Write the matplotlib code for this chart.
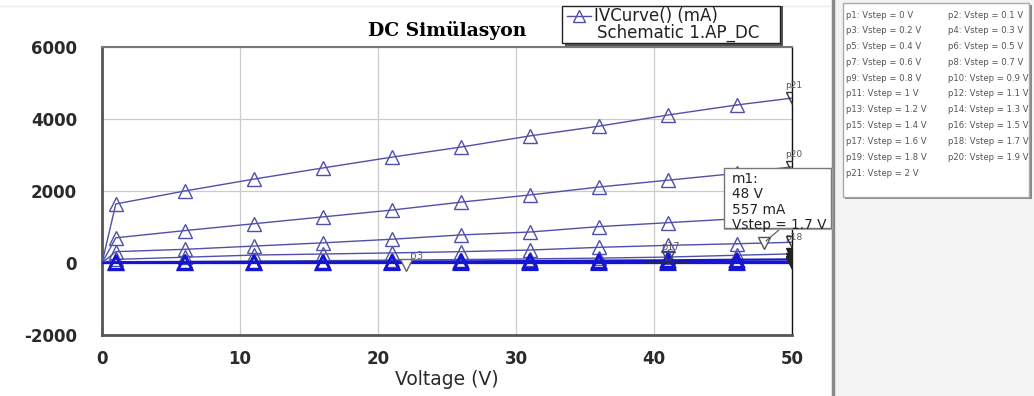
import matplotlib
matplotlib.use("Agg")
import matplotlib.pyplot as plt
from matplotlib.patches import Rectangle
from matplotlib.lines import Line2D

plt.rcParams["axes.unicode_minus"] = False

W, H = 1034, 396

# sweep points where the markers sit (V)
voltage = [0, 1, 6, 11, 16, 21, 26, 31, 36, 41, 46, 50]

# collector current for each Vstep trace (mA)
i_p21 = [0, 1640, 2000, 2330, 2640, 2940, 3220, 3530, 3800, 4110, 4390, 4580]
i_p20 = [0, 700, 900, 1090, 1280, 1470, 1690, 1890, 2110, 2300, 2490, 2670]
i_p19 = [0, 315, 380, 470, 560, 660, 780, 860, 1010, 1120, 1230, 1330]
i_p18 = [0, 100, 160, 220, 250, 280, 315, 360, 435, 490, 535, 575]
i_p17 = [0, 35, 45, 55, 65, 80, 95, 115, 135, 165, 215, 255]
i_p16 = [0, 15, 20, 25, 30, 35, 45, 55, 65, 75, 90, 100]
i_p15 = [0, 5, 8, 10, 12, 15, 18, 20, 24, 28, 32, 36]
i_low = [0, 0, 0, 0, 0, 0, 0, 0, 0, 0, 0, 0]

upper = [i_p21, i_p20, i_p19, i_p18, i_p17]
lower = [i_p16, i_p15, i_low]

# marker m1 on the Vstep = 1.7 V trace
m1_v, m1_i = 48, 557

x_ticks = [0, 10, 20, 30, 40, 50]
y_ticks = [-2000, 0, 2000, 4000, 6000]

vstep_labels = ["p%d: Vstep = %s V" % (n, v) for n, v in zip(
    range(1, 22),
    ["0", "0.1", "0.2", "0.3", "0.4", "0.5", "0.6", "0.7", "0.8", "0.9", "1",
     "1.1", "1.2", "1.3", "1.4", "1.5", "1.6", "1.7", "1.8", "1.9", "2"])]

trace_col = "#5050aa"
low_col = "#1414d2"


def fx(px):
    return px / W


def fy(py):
    return 1 - py / H


fig = plt.figure(figsize=(W / 100, H / 100), dpi=100)
fig.patch.set_facecolor("white")

# right-hand panel
fig.patches.append(Rectangle((fx(835), 0), fx(W - 835), 1, transform=fig.transFigure,
                             facecolor="#f3f3f3", edgecolor="none", zorder=0))
fig.lines.append(Line2D([fx(833), fx(833)], [0, 1], transform=fig.transFigure,
                        color="#8a8a8a", lw=2.5))
fig.lines.append(Line2D([0, fx(830)], [fy(6), fy(6)], transform=fig.transFigure,
                        color="#ececec", lw=1))

ax = fig.add_axes([fx(102), fy(335), fx(690), 288 / H])
ax.set_xlim(0, 50)
ax.set_ylim(-2000, 6000)
ax.set_xticks(x_ticks)
ax.set_yticks(y_ticks)
ax.grid(True, color="#cccccc", lw=0.9)
ax.set_axisbelow(True)
ax.tick_params(length=0, labelsize=12, colors="#2a2a2a")
ax.tick_params(axis="y", pad=18)
ax.tick_params(axis="x", pad=11)
for lab in ax.get_xticklabels() + ax.get_yticklabels():
    lab.set_fontweight("bold")
for s in ["left", "bottom"]:
    ax.spines[s].set_color("#555555")
    ax.spines[s].set_linewidth(2)
ax.spines["top"].set_color("#777777")
ax.spines["top"].set_linewidth(1.5)
ax.spines["right"].set_color("#111111")
ax.spines["right"].set_linewidth(1)

ax.set_xlabel("Voltage (V)", fontsize=13.5, color="#2a2a2a", labelpad=1)
ax.set_title("DC Simülasyon", family="DejaVu Serif", fontweight="bold",
             fontsize=13.5, pad=8)

for cur in upper:
    ax.plot(voltage[:-1], cur[:-1], color=trace_col, lw=1, marker="^", ms=10,
            mfc="none", mec=trace_col, mew=1, markevery=list(range(1, 11)), zorder=3)
    ax.plot(voltage[-2:], cur[-2:], color=trace_col, lw=1, zorder=3)
for cur in lower:
    ax.plot(voltage, cur, color=low_col, lw=1.6, marker="^", ms=10,
            mfc="none", mec=low_col, mew=1.6, markevery=list(range(1, 11)), zorder=4)

# end-point markers
end_marks = [("p21", i_p21[-1], 7), ("p20", i_p20[-1], 7), ("p18", i_p18[-1], 1.5)]
for name, val, dy in end_marks:
    ax.plot(50, val, marker="v", ms=9, mfc="none", mec="#333333", mew=1, zorder=5)
    ax.annotate(name, (50, val), xytext=(1, dy), textcoords="offset points",
                ha="center", fontsize=6.5, color="#555555")
for val in [i_p17[-1], i_p16[-1], i_p15[-1], 0]:
    ax.plot(50, val, marker="v", ms=9, mfc="#222222", mec="#222222", zorder=5)
ax.plot(22, -60, marker="v", ms=9, mfc="white", mec="#666666", mew=1, zorder=5)
ax.annotate("p3", (22, 0), xytext=(3, 3), textcoords="offset points",
            fontsize=7.5, color="#666666")
ax.plot(41, i_p17[-3], marker="v", ms=9, mfc="none", mec="#444444", mew=1, zorder=5)
ax.annotate("p17", (41, i_p17[-3]), xytext=(-5, 5), textcoords="offset points",
            fontsize=7, color="#555555")
ax.plot([39.5, 42.5], [40, 40], color="#222266", lw=1.5, zorder=5)

# m1 marker and readout
ax.plot(m1_v, m1_i, marker="v", ms=9, mfc="white", mec="#555555", mew=1, zorder=6)
fig.lines.append(Line2D([fx(766), fx(780)], [fy(241), fy(229)],
                        transform=fig.transFigure, color="#555555", lw=0.8))
fig.patches.append(Rectangle((fx(724), fy(228)), fx(107), 60 / H, transform=fig.transFigure,
                             facecolor="white", edgecolor="#777777", lw=1, zorder=10))
fig.lines.append(Line2D([fx(725), fx(832), fx(832)], [fy(229), fy(229), fy(169)],
                        transform=fig.transFigure, color="#aaaaaa", lw=1.5, zorder=10))
m1_rows = ["m1:", "%d V" % m1_v, "%d mA" % m1_i, "Vstep = 1.7 V"]
for k, row in enumerate(m1_rows):
    fig.text(fx(732), fy(179 + 15.5 * k), row, fontsize=9.8, color="#222222",
             va="center", zorder=11)

# trace legend box at the top
fig.patches.append(Rectangle((fx(565), fy(46)), fx(218), 40 / H, transform=fig.transFigure,
                             facecolor="#555555", edgecolor="none", zorder=9))
fig.patches.append(Rectangle((fx(562), fy(43)), fx(218), 37 / H, transform=fig.transFigure,
                             facecolor="white", edgecolor="#222222", lw=1, zorder=10))
fig.lines.append(Line2D([fx(567), fx(591)], [fy(16), fy(16)], transform=fig.transFigure,
                        color=trace_col, lw=1, zorder=11))
fig.lines.append(Line2D([fx(579)], [fy(16)], transform=fig.transFigure,
                        color=trace_col, lw=0, marker="^", ms=8, mfc="none", mec=trace_col,
                        zorder=11))
fig.text(fx(594), fy(16), "IVCurve() (mA)", fontsize=12, color="#222222",
         va="center", zorder=11)
fig.text(fx(597), fy(33), "Schematic 1.AP_DC", fontsize=12, color="#222222",
         va="center", zorder=11)

# Vstep legend on the right
fig.patches.append(Rectangle((fx(845), fy(199)), fx(187), 194 / H, transform=fig.transFigure,
                             facecolor="#888888", edgecolor="none", zorder=9))
fig.patches.append(Rectangle((fx(843), fy(197)), fx(186), 194 / H, transform=fig.transFigure,
                             facecolor="white", edgecolor="#aaaaaa", lw=1, zorder=10))
for k, lab in enumerate(vstep_labels):
    col, row = k % 2, k // 2
    fig.text(fx(846 if col == 0 else 948), fy(15 + row * 15.8), lab, fontsize=6.1,
             color="#555555", va="center", zorder=11)

fig.savefig("out.png", dpi=100)
